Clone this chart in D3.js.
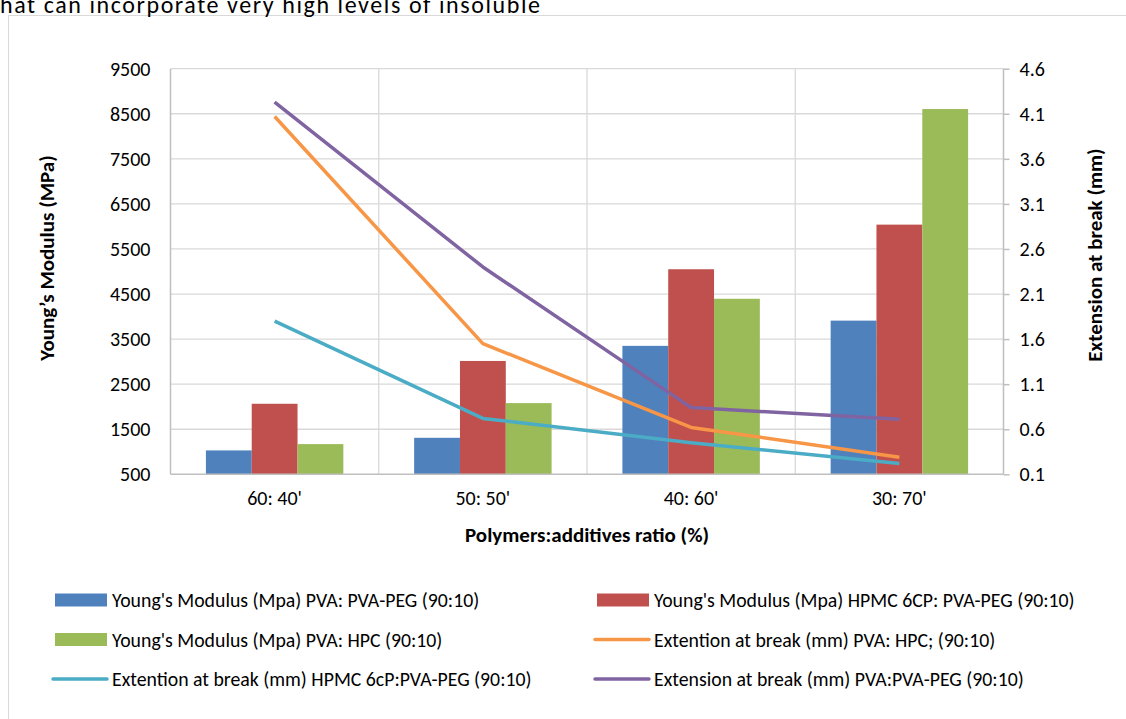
<!DOCTYPE html>
<html>
<head>
<meta charset="utf-8">
<script src="https://cdn.jsdelivr.net/npm/d3@7"></script>
<style>
  html, body { margin: 0; padding: 0; background: #fff; }
  svg { display: block; }
  text { font-family: Carlito, Calibri, Lato, "Open Sans", sans-serif; fill: #000; }
</style>
</head>
<body>
<svg id="chart" width="1126" height="719"></svg>
<script>
// ---- data ----
const categories = ["60: 40'", "50: 50'", "40: 60'", "30: 70'"];
const barSeriesNames = [
  "Young's Modulus (Mpa) PVA: PVA-PEG (90:10)",
  "Young's Modulus (Mpa) HPMC 6CP: PVA-PEG (90:10)",
  "Young's Modulus (Mpa) PVA: HPC (90:10)"
];
const ymPvaPeg = [1030, 1310, 3350, 3910];
const ymHpmc = [2065, 3015, 5050, 6040];
const ymPvaHpc = [1170, 2080, 4395, 8605];
const lineSeriesNames = [
  "Extention at break (mm) PVA: HPC; (90:10)",
  "Extention at break (mm) HPMC 6cP:PVA-PEG (90:10)",
  "Extension at break (mm) PVA:PVA-PEG (90:10)"
];
const extPvaHpc = [4.07, 1.55, 0.62, 0.29];
const extHpmc = [1.80, 0.72, 0.45, 0.22];
const extPvaPeg = [4.23, 2.40, 0.84, 0.71];
const leftTicks = [500, 1500, 2500, 3500, 4500, 5500, 6500, 7500, 8500, 9500];
const rightTicks = [0.1, 0.6, 1.1, 1.6, 2.1, 2.6, 3.1, 3.6, 4.1, 4.6];

const barColors = ["#4F81BD", "#C0504D", "#9BBB59"];
const lineColors = ["#F79646", "#4BACC6", "#8064A2"];
const barData = [ymPvaPeg, ymHpmc, ymPvaHpc];
const lineData = [extPvaHpc, extHpmc, extPvaPeg];

const svg = d3.select("#chart");

// outer chart frame
svg.append("rect").attr("x", 8.5).attr("y", 15.5).attr("width", 1140).attr("height", 720)
  .attr("fill", "#fff").attr("stroke", "#d9d9d9").attr("stroke-width", 1);

// partial text above chart (cut off at top, as in the source page)
svg.append("text").attr("x", 0).attr("y", 13)
  .attr("font-size", 24).attr("textLength", 540).attr("lengthAdjust", "spacing")
  .text("hat can incorporate very high levels of insoluble");

const plot = { left: 170.5, right: 1003.5, top: 68.7, bottom: 474.3 };

const x0 = d3.scaleBand().domain(categories).range([plot.left, plot.right]).paddingInner(0).paddingOuter(0);
const innerW = x0.bandwidth() * 0.66;
const x1 = d3.scaleBand().domain(d3.range(3)).range([0, innerW]);
const yL = d3.scaleLinear().domain([500, 9500]).range([plot.bottom, plot.top]);
const yR = d3.scaleLinear().domain([0.1, 4.6]).range([plot.bottom, plot.top]);

// horizontal gridlines
svg.append("g").selectAll("line").data(leftTicks.slice(1)).join("line")
  .attr("x1", plot.left).attr("x2", plot.right)
  .attr("y1", d => yL(d)).attr("y2", d => yL(d))
  .attr("stroke", "#d9d9d9").attr("stroke-width", 1.3);
// vertical gridlines at category boundaries
svg.append("g").selectAll("line").data(categories.slice(1)).join("line")
  .attr("x1", d => x0(d)).attr("x2", d => x0(d))
  .attr("y1", plot.top).attr("y2", plot.bottom)
  .attr("stroke", "#d9d9d9").attr("stroke-width", 1.3);

// bars
const groups = svg.append("g").selectAll("g").data(barData).join("g")
  .attr("fill", (d, i) => barColors[i]);
groups.each(function(vals, si) {
  d3.select(this).selectAll("rect").data(vals).join("rect")
    .attr("x", (v, ci) => x0(categories[ci]) + (x0.bandwidth() - innerW) / 2 + x1(si))
    .attr("width", x1.bandwidth())
    .attr("y", v => yL(v))
    .attr("height", v => yL(500) - yL(v));
});

// axes
const tickFont = 20;
const axL = svg.append("g").attr("transform", `translate(${plot.left},0)`)
  .call(d3.axisLeft(yL).tickValues(leftTicks).tickSize(0).tickPadding(20).tickFormat(d3.format("d")));
const axR = svg.append("g").attr("transform", `translate(${plot.right},0)`)
  .call(d3.axisRight(yR).tickValues(rightTicks).tickSize(6).tickPadding(10).tickFormat(d3.format(".1f")));
const axB = svg.append("g").attr("transform", `translate(0,${plot.bottom})`)
  .call(d3.axisBottom(x0).tickSize(0).tickPadding(17));
[axL, axR, axB].forEach(a => {
  a.select(".domain").attr("stroke", "#bfbfbf").attr("stroke-width", 1.5);
  a.selectAll(".tick line").attr("stroke", "#bfbfbf").attr("stroke-width", 1.5);
  a.selectAll(".tick text").attr("font-size", tickFont).attr("fill", "#000")
    .style("font-family", "Carlito, Calibri, Lato, sans-serif");
});
axB.select(".domain").attr("d", `M${plot.left},0H${plot.right}`);
axL.select(".domain").attr("d", `M0,${plot.top}V${plot.bottom}`);
axR.select(".domain").attr("d", `M0,${plot.top}V${plot.bottom}`);

// lines
const line = d3.line().x((v, i) => x0(categories[i]) + x0.bandwidth() / 2).y(v => yR(v));
svg.append("g").selectAll("path").data(lineData).join("path")
  .attr("d", d => line(d)).attr("fill", "none")
  .attr("stroke", (d, i) => lineColors[i]).attr("stroke-width", 3.5)
  .attr("stroke-linejoin", "round");

// axis titles
svg.append("text").attr("transform", "translate(54,258) rotate(-90)")
  .attr("text-anchor", "middle").attr("font-size", 21).attr("font-weight", "bold")
  .text("Young\u2019s Modulus (MPa)");
svg.append("text").attr("transform", "translate(1102,255) rotate(-90)")
  .attr("text-anchor", "middle").attr("font-size", 21).attr("font-weight", "bold")
  .text("Extension at break (mm)");
svg.append("text").attr("x", 587).attr("y", 542)
  .attr("text-anchor", "middle").attr("font-size", 21).attr("font-weight", "bold")
  .text("Polymers:additives ratio (%)");

// legend
const legendItems = [
  { name: barSeriesNames[0], color: barColors[0], type: "bar", col: 0, row: 0 },
  { name: barSeriesNames[1], color: barColors[1], type: "bar", col: 1, row: 0 },
  { name: barSeriesNames[2], color: barColors[2], type: "bar", col: 0, row: 1 },
  { name: lineSeriesNames[0], color: lineColors[0], type: "line", col: 1, row: 1 },
  { name: lineSeriesNames[1], color: lineColors[1], type: "line", col: 0, row: 2 },
  { name: lineSeriesNames[2], color: lineColors[2], type: "line", col: 1, row: 2 }
];
const colX = [55, 597];
const rowY = [600, 639.5, 679];
const lg = svg.append("g").selectAll("g").data(legendItems).join("g")
  .attr("transform", d => `translate(${colX[d.col]},${rowY[d.row]})`);
lg.each(function(d) {
  const g = d3.select(this);
  if (d.type === "bar") {
    g.append("rect").attr("x", 0).attr("y", -6.5).attr("width", 52).attr("height", 13).attr("fill", d.color);
  } else {
    g.append("line").attr("x1", -2).attr("x2", 52).attr("y1", 0).attr("y2", 0)
      .attr("stroke", d.color).attr("stroke-width", 3.5).attr("stroke-linecap", "round");
  }
  g.append("text").attr("x", 57).attr("y", 7).attr("font-size", 19.8).text(d.name);
});
</script>
</body>
</html>
